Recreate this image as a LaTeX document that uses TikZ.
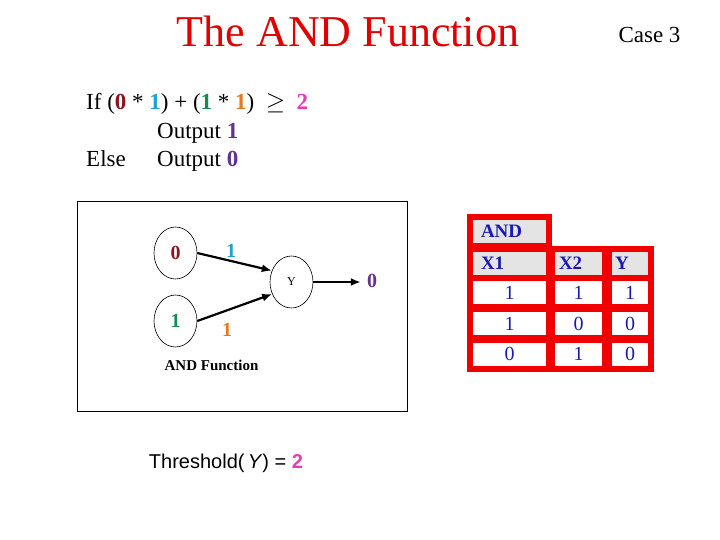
\documentclass[tikz,border=0pt]{standalone}
\usepackage{fontspec}
\setmainfont{Liberation Serif}
\newfontfamily\arialfont{Liberation Sans}
\usetikzlibrary{arrows.meta}
\usetikzlibrary{shapes.geometric}

\definecolor{titlered}{RGB}{225,0,0}
\definecolor{zerored}{RGB}{140,20,30}
\definecolor{wcyan}{RGB}{30,160,210}
\definecolor{wgreen}{RGB}{20,140,80}
\definecolor{worange}{RGB}{230,120,30}
\definecolor{tmagenta}{RGB}{230,60,180}
\definecolor{opurple}{RGB}{100,50,140}
\definecolor{tblue}{RGB}{25,25,180}
\definecolor{hgray}{RGB}{228,228,228}
\definecolor{tred}{RGB}{240,0,0}

\newcommand{\dg}[2]{\textcolor{#1}{\textbf{#2}}}

\tikzset{
  unit/.style={ellipse, draw, line width=0.6pt, minimum width=43pt, minimum height=52pt, inner sep=0pt},
  weight/.style={font=\fontsize{20}{22}\selectfont\bfseries, inner sep=1pt},
  link/.style={line width=2.2pt, -{Latex[length=10pt,width=8pt]}},
  hcell/.style={fill=hgray, minimum height=23pt, inner ysep=0pt, align=left, text=tblue,
    font=\fontsize{19}{20}\selectfont\bfseries},
  dcell/.style={fill=white, minimum height=23pt, inner sep=0pt, text=tblue,
    font=\fontsize{20}{21}\selectfont}
}

\begin{document}
\begin{tikzpicture}[x=1pt, y=-1pt]
  \useasboundingbox (0,0) rectangle (720,540);

  % title
  \node[anchor=base, text=titlered, font=\fontsize{44}{46}\selectfont] (title) at (348,47) {The AND Function};
  \node[anchor=base east, font=\fontsize{23}{24}\selectfont] (case) at (684,43) {Case 3};

  % rule
  \begin{scope}[every node/.append style={anchor=base west, inner sep=0pt, font=\fontsize{23}{25}\selectfont}]
    \node (rule) at (86,110) {If (\dg{zerored}{0} * \dg{wcyan}{1}) + (\dg{wgreen}{1} * \dg{worange}{1})~~$\geq$~~\dg{tmagenta}{2}};
    \node (then) at (157,139) {Output \dg{opurple}{1}};
    \node (else) at (86,167) {Else};
    \node (other) at (157,167) {Output \dg{opurple}{0}};
  \end{scope}

  % network
  \draw[line width=0.7pt] (77,201) rectangle (407,411);
  \node[unit, weight, text=zerored] (in0) at (175.5,253) {0};
  \node[unit, weight, text=wgreen] (in1) at (175.5,321) {1};
  \node[unit, font=\fontsize{12}{12}\selectfont] (y) at (291.5,282) {Y};
  \node[weight, text=opurple] (out) at (372,281) {0};
  \draw[link] (in0.east) -- (y.150);
  \draw[link] (in1.east) -- (y.212);
  \draw[link, shorten >=5pt] (y.east) -- (y.east -| out.west);
  \node[weight, text=wcyan] (w0) at (231,251) {1};
  \node[weight, text=worange] (w1) at (227,330) {1};
  \node[anchor=base, font=\fontsize{15}{16}\selectfont\bfseries] (fn) at (211.5,370.5) {AND Function};

  \node[anchor=base, font=\arialfont\fontsize{20}{22}\selectfont] (thr) at (226,468)
    {Threshold(\,\textit{Y}) = \dg{tmagenta}{2}};

  % truth table
  \fill[tred] (467,214) rectangle (552,250);
  \fill[tred] (467,246) rectangle (654,372);
  \node[hcell, text width=57pt, inner xsep=8pt] (and) at (509.5,231.5) {AND};
  \node[hcell, text width=57pt, inner xsep=8pt] (x1) at (509.5,263) {X1};
  \node[hcell, text width=39pt, inner xsep=4pt] (x2) at (578.5,263) {X2};
  \node[hcell, text width=30pt, inner xsep=3pt] (yh) at (630,263) {Y};
  \foreach \r/\a/\b/\c in {292.5/1/1/1, 323.5/1/0/0, 354/0/1/0} {
    \node[dcell, minimum width=73pt] (a\r) at (509.5,\r) {\a};
    \node[dcell, minimum width=47pt] (b\r) at (578.5,\r) {\b};
    \node[dcell, minimum width=36pt] (c\r) at (630,\r) {\c};
  }
\end{tikzpicture}
\end{document}
